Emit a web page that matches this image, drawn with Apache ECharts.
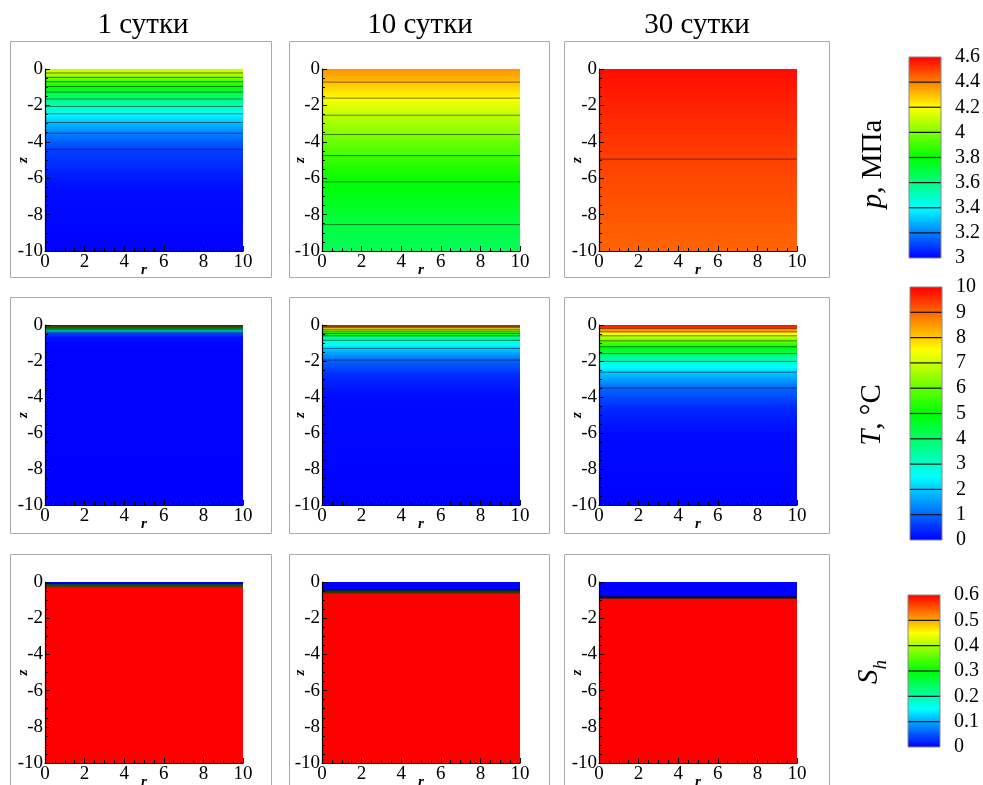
<!DOCTYPE html>
<html><head><meta charset="utf-8">
<script src="https://cdn.jsdelivr.net/npm/echarts@6/dist/echarts.min.js"></script>
<style>html,body{margin:0;padding:0;background:#fff}#c{width:983px;height:785px}</style>
</head><body><div id="c"></div>
<script>
// ---------------- DATA ----------------
const titles = ['1 сутки', '10 сутки', '30 сутки'];
const rTicks = [0, 2, 4, 6, 8, 10];
const zTicks = [-10, -8, -6, -4, -2, 0];

// pressure p, MPa  (profiles along z, uniform in r)
const p1Z = [0, -0.22, -0.46, -0.7, -0.96, -1.27, -1.65, -2.06, -2.46, -2.94, -3.53, -4.41, -6.5, -10];
const p1V = [4.12, 4.1, 4.0, 3.9, 3.8, 3.7, 3.6, 3.5, 3.4, 3.3, 3.2, 3.1, 3.02, 3.0];
const p2Z = [0, -0.72, -1.6, -2.54, -3.6, -4.76, -6.2, -8.55, -10];
const p2V = [4.37, 4.3, 4.2, 4.1, 4.0, 3.9, 3.8, 3.7, 3.66];
const p3Z = [0, -4.95, -10];
const p3V = [4.58, 4.5, 4.44];

// temperature T, °C
const T1Z = [0, -0.03, -0.06, -0.1, -0.14, -0.19, -0.25, -0.32, -0.4, -0.5, -0.68, -1.2, -10];
const T1V = [10, 9, 7.8, 6.4, 5.2, 4.0, 3.0, 2.1, 1.3, 0.6, 0.15, 0.02, 0];
const T2Z = [0, -0.07, -0.15, -0.24, -0.34, -0.46, -0.6, -0.85, -1.3, -1.95, -2.8, -4, -10];
const T2V = [10, 9, 8, 7, 6, 5, 4, 3, 2, 1, 0.4, 0.1, 0];
const T3Z = [0, -0.18, -0.38, -0.6, -0.88, -1.21, -1.59, -2.02, -2.62, -3.5, -4.6, -6, -10];
const T3V = [10, 9, 8, 7, 6, 5, 4, 3, 2, 1, 0.4, 0.1, 0.02];

// hydrate saturation Sh
const S1Z = [0, -0.08, -0.26, -10];
const S1V = [0, 0, 0.6, 0.6];
const S2Z = [0, -0.44, -0.6, -10];
const S2V = [0, 0, 0.6, 0.6];
const S3Z = [0, -0.82, -0.9, -10];
const S3V = [0, 0, 0.6, 0.6];

// colour-bar tick labels and contour levels
const pTicks = [3, 3.2, 3.4, 3.6, 3.8, 4, 4.2, 4.4, 4.6];
const TTicks = [0, 1, 2, 3, 4, 5, 6, 7, 8, 9, 10];
const ShTicks = [0, 0.1, 0.2, 0.3, 0.4, 0.5, 0.6];
const pLevels = [3.0, 3.1, 3.2, 3.3, 3.4, 3.5, 3.6, 3.7, 3.8, 3.9, 4.0, 4.1, 4.2, 4.3, 4.4, 4.5, 4.6];
const TLevels = [0, 1, 2, 3, 4, 5, 6, 7, 8, 9, 10];
const ShLevels = [0, 0.1, 0.2, 0.3, 0.4, 0.5, 0.6];

// ---------------- RENDERING ----------------
const maps = {
  p:  { min: 3, max: 4.6, levels: pLevels, ticks: pTicks, interval: 0.2 },
  T:  { min: 0, max: 10, levels: TLevels, ticks: TTicks, interval: 1 },
  Sh: { min: 0, max: 0.6, levels: ShLevels, ticks: ShTicks, interval: 0.1 }
};
const fields = [
  [{ z: p1Z, v: p1V, m: 'p' }, { z: p2Z, v: p2V, m: 'p' }, { z: p3Z, v: p3V, m: 'p' }],
  [{ z: T1Z, v: T1V, m: 'T' }, { z: T2Z, v: T2V, m: 'T' }, { z: T3Z, v: T3V, m: 'T' }],
  [{ z: S1Z, v: S1V, m: 'Sh' }, { z: S2Z, v: S2V, m: 'Sh' }, { z: S3Z, v: S3V, m: 'Sh' }]
];

const RGB = [[0, 0, 255], [0, 255, 255], [0, 255, 0], [255, 255, 0], [255, 0, 0]];
function colorAt(t) {
  t = Math.max(0, Math.min(1, t));
  let s = Math.min(3, Math.floor(t * 4));
  const f = t * 4 - s;
  const a = RGB[s], b = RGB[s + 1];
  return 'rgb(' + Math.round(a[0] + (b[0] - a[0]) * f) + ',' + Math.round(a[1] + (b[1] - a[1]) * f) + ',' + Math.round(a[2] + (b[2] - a[2]) * f) + ')';
}
function gradStops(v1, v2, m) {
  const t1 = (v1 - m.min) / (m.max - m.min), t2 = (v2 - m.min) / (m.max - m.min);
  const offs = [0, 1];
  if (t1 !== t2) [0, 0.25, 0.5, 0.75, 1].forEach(s => { const o = (s - t1) / (t2 - t1); if (o > 1e-6 && o < 1 - 1e-6) offs.push(o); });
  offs.sort((a, b) => a - b);
  return offs.map(o => ({ offset: o, color: colorAt(t1 + (t2 - t1) * o) }));
}
function contourZ(z, v, levels) {
  const out = [];
  levels.forEach(L => {
    for (let i = 0; i < z.length - 1; i++) {
      const a = v[i], b = v[i + 1];
      if (a === b) continue;
      if ((a - L) * (b - L) <= 0) {
        const zz = z[i] + (L - a) / (b - a) * (z[i + 1] - z[i]);
        if (zz > -9.999 && zz < -0.001 && !out.some(q => Math.abs(q - zz) < 1e-6)) out.push(zz);
      }
    }
  });
  return out;
}

const colLeft = [45, 322, 599];
const rowTop = [69, 325, 582];
const rowH = [182, 180, 181];
const plotW = 198;
const serif = 'Liberation Serif';

const grids = [], xAxes = [], yAxes = [], series = [];
let gi = 0;
for (let r = 0; r < 3; r++) for (let c = 0; c < 3; c++) {
  const F = fields[r][c], M = maps[F.m];
  grids.push({ left: colLeft[c], top: rowTop[r], width: plotW, height: rowH[r], outerBoundsMode: 'none' });
  const axCommon = {
    gridIndex: gi, type: 'value', z: 10, nameMoveOverlap: false,
    axisLine: { show: true, onZero: false, lineStyle: { color: '#000', width: 1.2 } },
    axisTick: { show: true, inside: true, length: 5, lineStyle: { color: '#000', width: 1 } },
    minorTick: { show: true, splitNumber: 4, length: 3, lineStyle: { color: '#000', width: 1 } },
    splitLine: { show: false },
    axisLabel: { color: '#000', fontFamily: serif, fontSize: 19, margin: 2, showMinLabel: true, showMaxLabel: true, hideOverlap: false },
    nameTextStyle: { color: '#000', fontFamily: serif, fontStyle: 'italic', fontWeight: 'bold', fontSize: 15 }
  };
  xAxes.push(Object.assign({}, axCommon, { min: rTicks[0], max: rTicks[rTicks.length - 1], interval: rTicks[1] - rTicks[0], name: 'r', nameLocation: 'middle', nameGap: 12 }));
  yAxes.push(Object.assign({}, axCommon, { min: zTicks[0], max: zTicks[zTicks.length - 1], interval: zTicks[1] - zTicks[0], name: 'z', nameLocation: 'middle', nameGap: 14, nameRotate: 90 }));
  const segs = [];
  for (let i = 0; i < F.z.length - 1; i++) segs.push([F.z[i], F.z[i + 1], F.v[i], F.v[i + 1]]);
  const rMin = rTicks[0], rMax = rTicks[rTicks.length - 1];
  series.push({
    type: 'custom', coordinateSystem: 'cartesian2d', xAxisIndex: gi, yAxisIndex: gi, silent: true, z: 2, animation: false,
    data: segs,
    renderItem: (function (M) {
      return function (params, api) {
        const z1 = api.value(0), z2 = api.value(1), v1 = api.value(2), v2 = api.value(3);
        const a = api.coord([rMin, z1]), b = api.coord([rMax, z2]);
        return { type: 'rect', shape: { x: a[0], y: a[1], width: b[0] - a[0], height: b[1] - a[1] + 0.7 },
          style: { fill: new echarts.graphic.LinearGradient(0, 0, 0, 1, gradStops(v1, v2, M)) } };
      };
    })(M)
  });
  const lines = contourZ(F.z, F.v, M.levels).map(zz => [rMin, zz]);
  series.push({
    type: 'custom', coordinateSystem: 'cartesian2d', xAxisIndex: gi, yAxisIndex: gi, silent: true, z: 3, animation: false,
    data: lines,
    renderItem: function (params, api) {
      const zz = api.value(1);
      const a = api.coord([rMin, zz]), b = api.coord([rMax, zz]);
      return { type: 'line', shape: { x1: a[0], y1: a[1], x2: b[0], y2: b[1] }, style: { stroke: '#000', lineWidth: 0.8, opacity: 0.65 } };
    }
  });
  gi++;
}

// colour bars
const cbars = [
  { m: 'p', left: 909, top: 57, width: 32, height: 201 },
  { m: 'T', left: 910, top: 287, width: 32, height: 253 },
  { m: 'Sh', left: 908, top: 595, width: 32, height: 152 }
];
cbars.forEach(cb => {
  const M = maps[cb.m];
  grids.push({ left: cb.left, top: cb.top, width: cb.width, height: cb.height, outerBoundsMode: 'none' });
  xAxes.push({ gridIndex: gi, type: 'value', min: 0, max: 1, show: false });
  yAxes.push({ gridIndex: gi, type: 'value', position: 'right', min: M.ticks[0], max: M.ticks[M.ticks.length - 1], interval: M.interval,
    axisLine: { show: false }, axisTick: { show: false }, splitLine: { show: false },
    axisLabel: { color: '#000', fontFamily: serif, fontSize: 20, margin: 14, showMinLabel: true, showMaxLabel: true, hideOverlap: false } });
  series.push({
    type: 'custom', coordinateSystem: 'cartesian2d', xAxisIndex: gi, yAxisIndex: gi, silent: true, animation: false,
    data: [[0, M.ticks[0], M.ticks[M.ticks.length - 1]]],
    renderItem: (function (M) {
      return function (params, api) {
        const lo = api.value(1), hi = api.value(2);
        const a = api.coord([0, hi]), b = api.coord([1, lo]);
        const children = [{ type: 'rect', shape: { x: a[0], y: a[1], width: b[0] - a[0], height: b[1] - a[1] },
          style: { fill: new echarts.graphic.LinearGradient(0, 0, 0, 1, gradStops(hi, lo, M)) } }];
        M.ticks.slice(1, -1).forEach(t => {
          const y = api.coord([0, t])[1];
          children.push({ type: 'line', shape: { x1: a[0], y1: y, x2: b[0], y2: y }, style: { stroke: '#111', lineWidth: 1.2 } });
        });
        children.push({ type: 'rect', shape: { x: a[0], y: a[1], width: b[0] - a[0], height: b[1] - a[1] },
          style: { fill: 'none', stroke: '#888', lineWidth: 1 } });
        return { type: 'group', children: children };
      };
    })(M)
  });
  gi++;
});

// panel frames, titles, colour-bar captions
const graphics = [];
const boxX = [[10, 271], [289, 549], [564, 829]];
const boxY = [[41, 277], [297, 533], [554, 800]];
for (let r = 0; r < 3; r++) for (let c = 0; c < 3; c++) {
  graphics.push({ type: 'rect', silent: true, z: -1, shape: { x: boxX[c][0] + 0.5, y: boxY[r][0] + 0.5, width: boxX[c][1] - boxX[c][0], height: boxY[r][1] - boxY[r][0] },
    style: { fill: 'none', stroke: '#aaaaaa', lineWidth: 1 } });
}
const titleX = [143, 420, 697];
titles.forEach((t, i) => graphics.push({ type: 'text', x: titleX[i], y: 25, silent: true,
  style: { text: t, align: 'center', verticalAlign: 'middle', textAlign: 'center', textVerticalAlign: 'middle', fontFamily: serif, fontSize: 29, fill: '#000' } }));
const capFont = 29;
graphics.push({ type: 'text', x: 873, y: 164, rotation: Math.PI / 2, silent: true,
  style: { text: '{i|p}, МПа', align: 'center', verticalAlign: 'middle', textAlign: 'center', textVerticalAlign: 'middle', fontFamily: serif, fontSize: capFont, fill: '#000',
    rich: { i: { fontStyle: 'italic', fontFamily: serif, fontSize: capFont, fill: '#000' } } } });
graphics.push({ type: 'text', x: 872, y: 415, rotation: Math.PI / 2, silent: true,
  style: { text: '{i|T}, °C', align: 'center', verticalAlign: 'middle', textAlign: 'center', textVerticalAlign: 'middle', fontFamily: serif, fontSize: capFont, fill: '#000',
    rich: { i: { fontStyle: 'italic', fontFamily: serif, fontSize: capFont, fill: '#000' } } } });
graphics.push({ type: 'text', x: 868, y: 672, rotation: Math.PI / 2, silent: true,
  style: { text: '{i|S}{s|h}', align: 'center', verticalAlign: 'middle', textAlign: 'center', textVerticalAlign: 'middle', fontFamily: serif, fontSize: capFont, fill: '#000',
    rich: { i: { fontStyle: 'italic', fontFamily: serif, fontSize: capFont, fill: '#000', verticalAlign: 'bottom', lineHeight: 32 },
            s: { fontStyle: 'italic', fontFamily: serif, fontSize: 19, fill: '#000', verticalAlign: 'bottom', lineHeight: 32, padding: [0, 0, -6, 0] } } } });

const chart = echarts.init(document.getElementById('c'), null, { renderer: 'canvas' });
chart.setOption({
  backgroundColor: '#ffffff',
  animation: false,
  grid: grids, xAxis: xAxes, yAxis: yAxes, series: series,
  graphic: { elements: graphics }
});
</script></body></html>
